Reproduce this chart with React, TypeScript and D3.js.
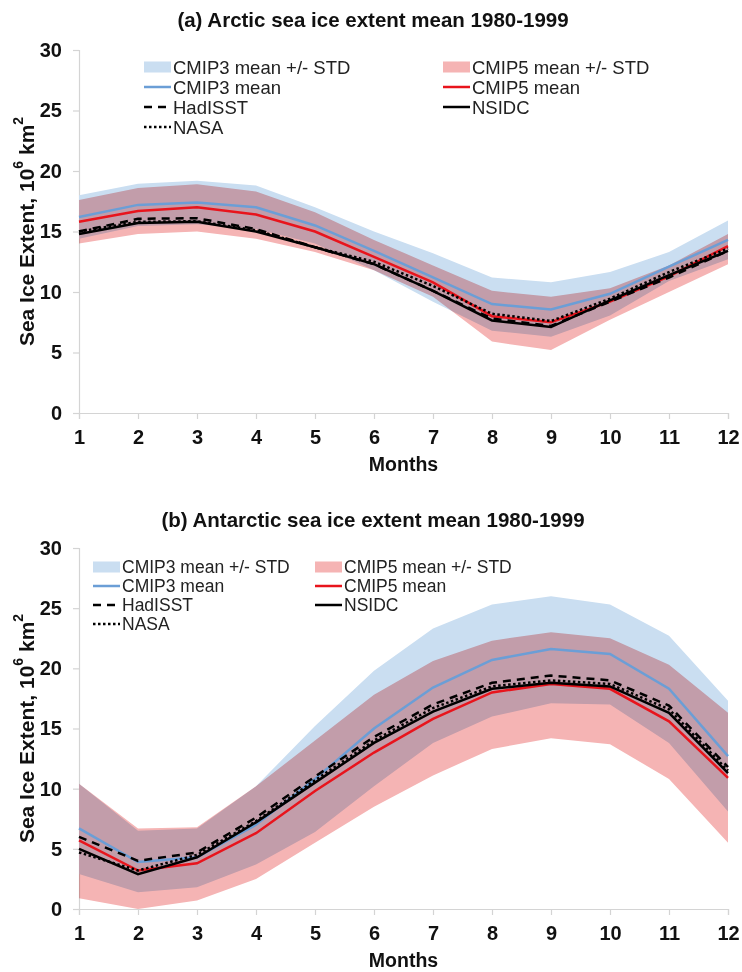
import * as d3 from "d3"
import { useEffect, useRef } from "react"

const months = [1, 2, 3, 4, 5, 6, 7, 8, 9, 10, 11, 12]
const yTicks = [0, 5, 10, 15, 20, 25, 30]

// (a) Arctic, 10^6 km2
const arcticCmip3Upper = [18.0, 18.95, 19.2, 18.8, 17.0, 15.0, 13.2, 11.2, 10.8, 11.65, 13.3, 15.9]
const arcticCmip3Lower = [14.4, 15.45, 15.6, 15.2, 14.0, 11.8, 9.2, 6.8, 6.3, 8.05, 10.9, 12.7]
const arcticCmip3Mean = [16.2, 17.2, 17.4, 17.0, 15.5, 13.4, 11.2, 9.0, 8.55, 9.85, 12.1, 14.3]
const arcticCmip5Upper = [17.6, 18.6, 18.9, 18.3, 16.6, 14.3, 12.2, 10.1, 9.6, 10.3, 12.2, 14.8]
const arcticCmip5Lower = [14.0, 14.8, 15.0, 14.4, 13.3, 11.8, 9.6, 5.9, 5.2, 7.7, 10.0, 12.3]
const arcticCmip5Mean = [15.8, 16.7, 17.0, 16.4, 15.0, 12.9, 10.8, 8.0, 7.5, 9.2, 11.3, 13.8]
const arcticHadISST = [15.0, 16.05, 16.1, 15.2, 13.7, 12.3, 10.1, 7.8, 7.2, 9.2, 11.2, 13.4]
const arcticNSIDC = [14.8, 15.7, 15.8, 15.0, 13.7, 12.3, 10.1, 7.65, 7.1, 9.3, 11.4, 13.4]
const arcticNASA = [15.0, 15.8, 15.85, 15.1, 13.7, 12.5, 10.5, 8.2, 7.6, 9.45, 11.65, 13.6]

// (b) Antarctic, 10^6 km2
const antarcticCmip3Upper = [10.4, 6.5, 6.7, 10.2, 15.2, 19.8, 23.3, 25.3, 26.0, 25.3, 22.7, 17.3]
const antarcticCmip3Lower = [2.9, 1.4, 1.8, 3.7, 6.4, 10.2, 13.8, 16.0, 17.1, 17.0, 13.8, 8.1]
const antarcticCmip3Mean = [6.7, 3.9, 4.3, 7.0, 10.8, 15.0, 18.4, 20.7, 21.6, 21.2, 18.3, 12.7]
const antarcticCmip5Upper = [10.4, 6.7, 6.8, 10.2, 14.0, 17.8, 20.6, 22.3, 23.0, 22.5, 20.3, 16.3]
const antarcticCmip5Lower = [0.9, 0.0, 0.7, 2.5, 5.5, 8.5, 11.1, 13.3, 14.2, 13.7, 10.8, 5.5]
const antarcticCmip5Mean = [5.7, 3.2, 3.8, 6.3, 9.8, 13.0, 15.8, 18.0, 18.7, 18.3, 15.6, 10.9]
const antarcticHadISST = [6.0, 4.0, 4.7, 7.6, 11.0, 14.3, 17.0, 18.8, 19.4, 19.0, 16.9, 11.8]
const antarcticNSIDC = [5.0, 2.9, 4.3, 7.2, 10.5, 13.8, 16.4, 18.3, 18.8, 18.5, 16.3, 11.3]
const antarcticNASA = [4.7, 3.2, 4.5, 7.3, 10.7, 14.0, 16.7, 18.5, 19.0, 18.7, 16.6, 11.5]

const legendLabels = [
  ["CMIP3 mean +/- STD", "CMIP5 mean +/- STD"],
  ["CMIP3 mean", "CMIP5 mean"],
  ["HadISST", "NSIDC"],
  ["NASA", ""],
]

const FONT = "'Liberation Sans', Arial, sans-serif"
const BLUE_BAND = "#cadef1"
const PINK_BAND = "#f5b4b4"
const BLUE = "#6b9ed6"
const RED = "#e8141c"
const AXIS = "#d4d4d4"

type PanelProps = {
  title: string
  titleY: number
  top: number
  bottom: number
  legendY: number
  legendRow: number
  legendFont: number
  legendX: [number, number]
  cmip3Upper: number[]
  cmip3Lower: number[]
  cmip3Mean: number[]
  cmip5Upper: number[]
  cmip5Lower: number[]
  cmip5Mean: number[]
  hadisst: number[]
  nsidc: number[]
  nasa: number[]
}

const Panel = (p: PanelProps) => {
  const gRef = useRef<SVGGElement>(null)

  useEffect(() => {
    if (!gRef.current) return
    const g = d3.select(gRef.current)
    g.selectAll("*").remove()

    const left = 79
    const right = 728
    const x = d3.scaleLinear().domain([1, 12]).range([left, right])
    const y = d3.scaleLinear().domain([0, 30]).range([p.bottom, p.top])

    // title, centred on the whole figure
    g.append("text")
      .attr("x", 373)
      .attr("y", p.titleY)
      .attr("text-anchor", "middle")
      .attr("dominant-baseline", "central")
      .attr("font-family", FONT)
      .attr("font-weight", "bold")
      .attr("font-size", 20.5)
      .attr("fill", "#111")
      .text(p.title)

    // axes
    const yAxis = g
      .append("g")
      .attr("transform", `translate(${left},0)`)
      .call(d3.axisLeft(y).tickValues(yTicks).tickSize(6).tickPadding(11))
    const xAxis = g
      .append("g")
      .attr("transform", `translate(0,${p.bottom})`)
      .call(d3.axisBottom(x).tickValues(months).tickSize(6).tickPadding(11))
    for (const ax of [yAxis, xAxis]) {
      ax.select(".domain").attr("stroke", AXIS).attr("stroke-width", 1.2)
      ax.selectAll(".tick line").attr("stroke", AXIS).attr("stroke-width", 1.2)
      ax.selectAll(".tick text")
        .attr("font-family", FONT)
        .attr("font-weight", "bold")
        .attr("font-size", 20)
        .attr("fill", "#111")
    }

    g.append("text")
      .attr("x", (left + right) / 2)
      .attr("y", p.bottom + 51)
      .attr("text-anchor", "middle")
      .attr("dominant-baseline", "central")
      .attr("font-family", FONT)
      .attr("font-weight", "bold")
      .attr("font-size", 19.5)
      .attr("fill", "#111")
      .text("Months")

    const yl = g
      .append("text")
      .attr("transform", `translate(26,${(p.top + p.bottom) / 2}) rotate(-90)`)
      .attr("text-anchor", "middle")
      .attr("dominant-baseline", "central")
      .attr("font-family", FONT)
      .attr("font-weight", "bold")
      .attr("font-size", 21)
      .attr("fill", "#111")
    yl.append("tspan").text("Sea Ice Extent, 10")
    yl.append("tspan").attr("dy", -8).attr("font-size", 14).text("6")
    yl.append("tspan").attr("dy", 8).text(" km")
    yl.append("tspan").attr("dy", -8).attr("font-size", 14).text("2")

    // bands
    const area = (lo: number[], hi: number[]) =>
      d3
        .area<number>()
        .x((d) => x(d))
        .y0((_, i) => y(lo[i]))
        .y1((_, i) => y(hi[i]))(months)
    g.append("path").attr("d", area(p.cmip3Lower, p.cmip3Upper)).attr("fill", BLUE_BAND)
    g.append("path")
      .attr("d", area(p.cmip5Lower, p.cmip5Upper))
      .attr("fill", PINK_BAND)
      .style("mix-blend-mode", "multiply")

    // lines
    const line = (vals: number[]) =>
      d3
        .line<number>()
        .x((d) => x(d))
        .y((_, i) => y(vals[i]))(months)
    const series = [
      { vals: p.cmip3Mean, color: BLUE, dash: null },
      { vals: p.cmip5Mean, color: RED, dash: null },
      { vals: p.nsidc, color: "#000", dash: null },
      { vals: p.hadisst, color: "#000", dash: "8,6" },
      { vals: p.nasa, color: "#000", dash: "2.5,2.5" },
    ]
    series.forEach((s) => {
      g.append("path")
        .attr("d", line(s.vals))
        .attr("fill", "none")
        .attr("stroke", s.color)
        .attr("stroke-width", 2.5)
        .attr("stroke-dasharray", s.dash)
    })

    // legend
    const sw = 27
    const legend = g.append("g")
    const swatches = [
      [
        { kind: "rect", fill: BLUE_BAND },
        { kind: "rect", fill: PINK_BAND },
      ],
      [
        { kind: "line", color: BLUE, dash: null },
        { kind: "line", color: RED, dash: null },
      ],
      [
        { kind: "line", color: "#000", dash: "8,6" },
        { kind: "line", color: "#000", dash: null },
      ],
      [{ kind: "line", color: "#000", dash: "2.5,2.5" }],
    ]
    legendLabels.forEach((row, ri) => {
      row.forEach((label, ci) => {
        if (!label) return
        const lx = p.legendX[ci]
        const ly = p.legendY + ri * p.legendRow
        const s: any = swatches[ri][ci]
        if (s.kind === "rect") {
          legend.append("rect")
            .attr("x", lx)
            .attr("y", ly - 5.5)
            .attr("width", sw)
            .attr("height", 11)
            .attr("fill", s.fill)
        } else {
          legend.append("line")
            .attr("x1", lx)
            .attr("x2", lx + sw)
            .attr("y1", ly)
            .attr("y2", ly)
            .attr("stroke", s.color)
            .attr("stroke-width", 2.5)
            .attr("stroke-dasharray", s.dash)
        }
        legend.append("text")
          .attr("x", lx + sw + 2)
          .attr("y", ly)
          .attr("dominant-baseline", "central")
          .attr("font-family", FONT)
          .attr("font-size", p.legendFont)
          .attr("fill", "#222")
          .text(label)
      })
    })
  }, [p])

  return <g ref={gRef} />
}

export default function App() {
  return (
    <svg
      width={742}
      height={972}
      style={{ position: "absolute", left: 0, top: 0, background: "#fff" }}
    >
      <rect width={742} height={972} fill="#fff" />
      <Panel
        title="(a) Arctic sea ice extent mean 1980-1999"
        titleY={19}
        top={50}
        bottom={413}
        legendY={67}
        legendRow={20}
        legendFont={18.5}
        legendX={[144, 443]}
        cmip3Upper={arcticCmip3Upper}
        cmip3Lower={arcticCmip3Lower}
        cmip3Mean={arcticCmip3Mean}
        cmip5Upper={arcticCmip5Upper}
        cmip5Lower={arcticCmip5Lower}
        cmip5Mean={arcticCmip5Mean}
        hadisst={arcticHadISST}
        nsidc={arcticNSIDC}
        nasa={arcticNASA}
      />
      <Panel
        title="(b) Antarctic sea ice extent mean 1980-1999"
        titleY={519}
        top={548}
        bottom={909}
        legendY={567}
        legendRow={19}
        legendFont={17.5}
        legendX={[93, 315]}
        cmip3Upper={antarcticCmip3Upper}
        cmip3Lower={antarcticCmip3Lower}
        cmip3Mean={antarcticCmip3Mean}
        cmip5Upper={antarcticCmip5Upper}
        cmip5Lower={antarcticCmip5Lower}
        cmip5Mean={antarcticCmip5Mean}
        hadisst={antarcticHadISST}
        nsidc={antarcticNSIDC}
        nasa={antarcticNASA}
      />
    </svg>
  )
}
